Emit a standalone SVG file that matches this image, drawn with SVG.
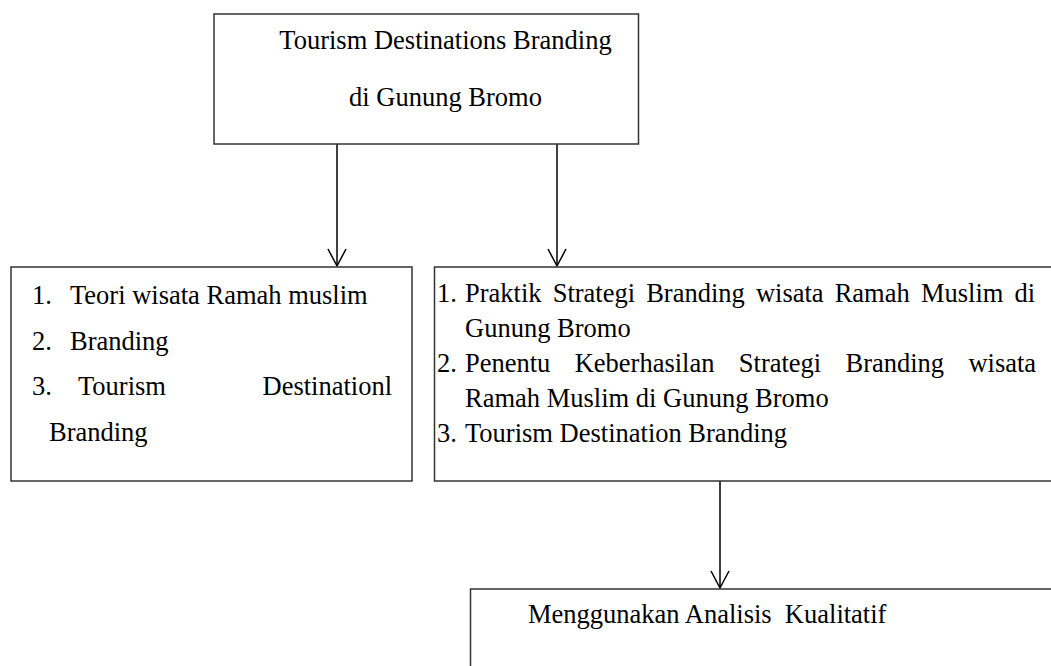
<svg xmlns="http://www.w3.org/2000/svg" width="1051" height="666" viewBox="0 0 1051 666">
  <style>
    .box { fill: #ffffff; stroke: #333333; stroke-width: 1.5; }
    .t { font-family: "Liberation Serif", "Times New Roman", serif; font-size: 26.5px; fill: #000000; }
    .conn { stroke: #000000; stroke-width: 1.5; fill: none; }
  </style>
  <defs>
    <marker id="arr" markerUnits="userSpaceOnUse" markerWidth="20" markerHeight="20" refX="0" refY="0" orient="auto" overflow="visible">
      <path d="M-17,-9 L0,0 L-17,9" fill="none" stroke="#000000" stroke-width="1.5"/>
    </marker>
  </defs>
  <rect width="1051" height="666" fill="#ffffff"/>

  <g id="connectors">
    <line class="conn" x1="337" y1="144" x2="337" y2="266" marker-end="url(#arr)"/>
    <line class="conn" x1="557" y1="144" x2="557" y2="266" marker-end="url(#arr)"/>
    <line class="conn" x1="720" y1="481" x2="720" y2="588" marker-end="url(#arr)"/>
  </g>

  <g id="node-top">
    <rect class="box" x="214" y="14" width="424.5" height="130"/>
    <text class="t" x="445.5" y="49" text-anchor="middle">Tourism Destinations Branding</text>
    <text class="t" x="445.5" y="106" text-anchor="middle">di Gunung Bromo</text>
  </g>

  <g id="node-left">
    <rect class="box" x="11" y="267" width="401" height="214"/>
    <text class="t" y="304"><tspan x="32">1.</tspan><tspan x="70">Teori wisata Ramah muslim</tspan></text>
    <text class="t" y="349.5"><tspan x="32">2.</tspan><tspan x="70">Branding</tspan></text>
    <text class="t" y="395"><tspan x="32">3.</tspan><tspan x="78">Tourism</tspan><tspan x="262.5">Destinationl</tspan></text>
    <text class="t" x="49" y="441">Branding</text>
  </g>

  <g id="node-right">
    <rect class="box" x="434.5" y="267" width="640" height="214"/>
    <text class="t" y="302"><tspan x="437">1.</tspan><tspan x="465">Praktik</tspan><tspan x="552.7">Strategi</tspan><tspan x="646.2">Branding</tspan><tspan x="755.9">wisata</tspan><tspan x="834.7">Ramah</tspan><tspan x="920.9">Muslim</tspan><tspan x="1014.5">di</tspan></text>
    <text class="t" x="465" y="337">Gunung Bromo</text>
    <text class="t" y="372"><tspan x="437">2.</tspan><tspan x="465">Penentu</tspan><tspan x="574.7">Keberhasilan</tspan><tspan x="738.8">Strategi</tspan><tspan x="845.5">Branding</tspan><tspan x="968.4">wisata</tspan></text>
    <text class="t" x="465" y="407">Ramah Muslim di Gunung Bromo</text>
    <text class="t" y="442"><tspan x="437">3.</tspan><tspan x="465">Tourism Destination Branding</tspan></text>
  </g>

  <g id="node-bottom">
    <rect class="box" x="470.5" y="589" width="620" height="120"/>
    <text class="t" x="528" y="623" xml:space="preserve">Menggunakan Analisis  Kualitatif</text>
  </g>
</svg>
